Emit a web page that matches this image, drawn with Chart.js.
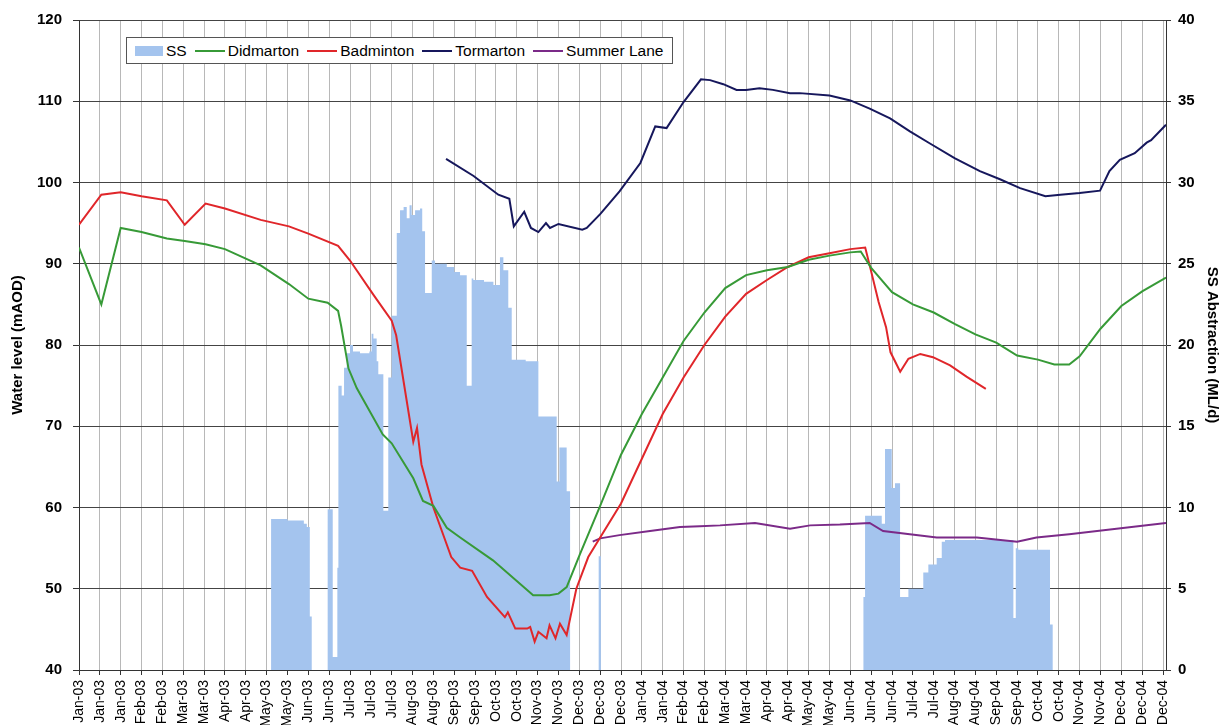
<!DOCTYPE html>
<html>
<head>
<meta charset="utf-8">
<title>Water levels and SS abstraction 2003-2004</title>
<script src="https://cdn.jsdelivr.net/npm/chart.js@4.4.1/dist/chart.umd.min.js"></script>
<style>
    html, body { margin: 0; padding: 0; background: #fff; }
    .wrap { position: relative; width: 1223px; height: 725px; }
    #legend {
        position: absolute; left: 126px; top: 37px; height: 27px;
        box-sizing: border-box; padding: 0 9px 0 8px;
        border: 1px solid #555; background: #fff;
        display: flex; align-items: center;
        font: 15.5px "Liberation Sans", Arial, sans-serif; color: #000;
        white-space: nowrap;
    }
    #legend .item { display: flex; align-items: center; margin-right: 8px; }
    #legend .item:last-child { margin-right: 0; }
    #legend .box { width: 28px; height: 10px; margin-right: 3px; }
    #legend .line { width: 30px; height: 2px; margin-right: 3px; }
</style>
</head>
<body>
<div class="wrap">
    <canvas id="chartLevels" width="1223" height="725"></canvas>
    <div id="legend"></div>
</div>
<script>
/* =========================================================
   DATA  (x = days since 1 Jan 2003)
========================================================= */
const tickLabels = [
    "Jan-03", "Jan-03", "Jan-03", "Feb-03", "Feb-03", "Mar-03", "Mar-03", "Apr-03", "Apr-03",
    "May-03", "May-03", "Jun-03", "Jun-03", "Jul-03", "Jul-03", "Jul-03", "Aug-03", "Aug-03",
    "Sep-03", "Sep-03", "Oct-03", "Oct-03", "Nov-03", "Nov-03", "Dec-03", "Dec-03", "Dec-03",
    "Jan-04", "Jan-04", "Feb-04", "Feb-04", "Mar-04", "Mar-04", "Apr-04", "Apr-04", "May-04",
    "May-04", "Jun-04", "Jun-04", "Jun-04", "Jul-04", "Jul-04", "Aug-04", "Aug-04", "Sep-04",
    "Sep-04", "Oct-04", "Oct-04", "Nov-04", "Nov-04", "Dec-04", "Dec-04", "Dec-04"
];
const tickStepDays = 14;

// SS abstraction (ML/d): [day the value starts, value]
const ssAbstraction = [
    [0, 0], [129, 9.3], [140, 9.2], [151, 9.0], [153, 8.8], [155, 3.3], [156.3, 0],
    [167, 9.9], [170.4, 0.8], [173.5, 6.3], [174.2, 17.5], [176.4, 16.9], [178, 18.6],
    [179.8, 19.5], [182, 20.0], [184, 19.6], [188.7, 19.5], [195, 19.6], [196.5, 20.7],
    [197.7, 20.4], [199.9, 19.0], [201, 18.2], [204.4, 9.8], [207.7, 18.0], [210, 21.8],
    [213.4, 26.9], [215.6, 28.3], [218, 28.5], [220.1, 27.8], [222, 28.6], [223.4, 28.0],
    [225.7, 28.3], [229, 28.4], [230.5, 27.0], [232.4, 23.2], [236.9, 25.2], [239.1, 25.0],
    [247, 24.8], [252, 24.5], [255.9, 24.3], [260.4, 17.5], [263.7, 24.1], [264.8, 24.0],
    [272, 23.9], [278.3, 23.7], [282.7, 25.4], [285, 24.6], [288.3, 22.3], [290.6, 19.1],
    [300, 19.0], [308.5, 15.6], [320.8, 11.6], [322.6, 13.7], [327.5, 11.0], [329.8, 0],
    [349, 7.0], [350.5, 0],
    [526.8, 4.5], [527.9, 9.5], [539.1, 9.0], [541.3, 13.6], [545.8, 11.2], [548, 11.5],
    [551.4, 4.5], [557, 5.0], [567, 6.0], [570.4, 6.5], [576, 6.9], [579.4, 7.9],
    [581.6, 8.0], [627.5, 3.2], [629.1, 7.5], [630.8, 7.4], [652.1, 2.8], [653.9, 0], [730, 0]
];

// water levels (mAOD): [day, level]
const didmarton = [
    [0, 92.0], [15, 85.0], [28, 94.4], [42, 93.9], [59, 93.1], [71, 92.8], [85, 92.4],
    [98, 91.8], [122, 89.8], [141, 87.5], [154, 85.7], [167, 85.2], [174, 84.2], [176, 82.4],
    [181, 77.1], [186.5, 74.7], [204, 69.0], [210, 67.9], [224.5, 63.6], [231, 60.8],
    [238, 60.2], [247, 57.5], [256, 56.3], [278, 53.5], [305, 49.2], [316, 49.2], [322, 49.4],
    [327.5, 50.2], [336.5, 54.3], [350, 60.2], [364, 66.5], [378, 71.5], [392, 76.0],
    [406, 80.5], [420, 84.0], [434, 87.0], [448, 88.6], [462, 89.2], [476, 89.6], [490, 90.5],
    [504, 91.0], [518, 91.4], [525, 91.5], [532, 89.5], [546, 86.5], [560, 85.0], [574, 84.0],
    [588, 82.6], [602, 81.3], [616, 80.3], [630, 78.7], [644, 78.2], [655, 77.6], [665, 77.6],
    [672, 78.6], [686, 82.0], [700, 84.8], [714, 86.6], [730, 88.3]
];
const badminton = [
    [0, 94.8], [15, 98.5], [28, 98.8], [42, 98.3], [59, 97.8], [71, 94.8], [85, 97.4],
    [98, 96.8], [122, 95.4], [141, 94.6], [154, 93.7], [174, 92.2], [182, 90.4], [198, 86.1],
    [210, 83.0], [213, 81.2], [224.5, 68.1], [227, 69.8], [230, 65.3], [238, 60.0], [250, 53.9],
    [256, 52.6], [264, 52.2], [274, 49.0], [286, 46.5], [288, 47.1], [293, 45.1], [301, 45.1],
    [303, 45.3], [306, 43.5], [308.5, 44.7], [314, 43.9], [316, 45.5], [320, 43.9], [323, 45.7],
    [327.5, 44.3], [334, 50.0], [342, 53.9], [350, 56.3], [364, 60.5], [378, 66.0], [392, 71.5],
    [406, 76.0], [420, 80.0], [434, 83.5], [448, 86.3], [462, 88.0], [476, 89.6], [490, 90.8],
    [504, 91.3], [518, 91.8], [528, 92.0], [531, 89.8], [537, 85.3], [542, 82.2], [545, 79.1],
    [551.5, 76.7], [557, 78.3], [565, 78.9], [573.5, 78.5], [585, 77.5], [596, 76.1], [609, 74.6]
];
const tormarton = [
    [246.5, 102.9], [265, 100.8], [281.6, 98.5], [289, 98.0], [292, 94.6], [299, 96.4],
    [303.5, 94.4], [308.5, 93.9], [313.6, 95.0], [316.3, 94.4], [322, 94.9], [338, 94.2],
    [341, 94.4], [350, 96.1], [363, 98.9], [377, 102.4], [387, 106.9], [394.6, 106.7],
    [406, 109.9], [417.7, 112.7], [423.8, 112.6], [432.7, 112.1], [441.6, 111.4], [448, 111.4],
    [457, 111.6], [466, 111.4], [477.5, 111.0], [484, 111.0], [504, 110.7], [518, 110.1],
    [531, 109.1], [544.7, 107.9], [558, 106.3], [571.5, 104.8], [588, 103.0], [605, 101.4],
    [618.5, 100.4], [632, 99.3], [649, 98.3], [659, 98.5], [672, 98.7], [685.7, 99.0],
    [692, 101.4], [699, 102.8], [709, 103.6], [717, 104.9], [720, 105.2], [730, 107.1]
];
const summerLane = [
    [345, 55.8], [350, 56.2], [363, 56.6], [383.5, 57.1], [403.6, 57.6], [417, 57.7],
    [430.5, 57.8], [454, 58.1], [477.5, 57.4], [491, 57.8], [511, 57.9], [531, 58.1],
    [540, 57.1], [576, 56.3], [603, 56.3], [630, 55.8], [643, 56.3], [665, 56.7], [730, 58.1]
];

const toPoints = rows => rows.map(([x, y]) => ({ x, y }));

/* =========================================================
   CHART
========================================================= */
Chart.defaults.font.family = '"Liberation Sans", Arial, sans-serif';
Chart.defaults.color = '#000';

const lineSeries = (label, rows, color) => ({
    label,
    data: toPoints(rows),
    yAxisID: 'y',
    borderColor: color,
    backgroundColor: color,
    borderWidth: 2,
    pointRadius: 0,
    tension: 0,
    fill: false,
    order: 0
});

const canvas = document.getElementById('chartLevels');

const chart = new Chart(canvas, {
    type: 'line',
    data: {
        datasets: [
            {
                label: 'SS',
                data: toPoints(ssAbstraction),
                yAxisID: 'y2',
                stepped: true,
                fill: 'origin',
                backgroundColor: '#a4c4ee',
                borderColor: '#a4c4ee',
                borderWidth: 0,
                pointRadius: 0,
                order: 5
            },
            lineSeries('Didmarton', didmarton, '#379a37'),
            lineSeries('Badminton', badminton, '#e0262a'),
            lineSeries('Tormarton', tormarton, '#16175c'),
            lineSeries('Summer Lane', summerLane, '#7b2a88')
        ]
    },
    options: {
        responsive: false,
        devicePixelRatio: 1,
        animation: false,
        layout: { padding: { top: 16, left: 0, right: 0, bottom: 0 } },
        plugins: {
            legend: { display: false },
            tooltip: { enabled: false }
        },
        scales: {
            x: {
                type: 'linear',
                min: 0,
                max: 730,
                afterBuildTicks: scale => {
                    scale.ticks = tickLabels.map((_, i) => ({ value: i * tickStepDays }));
                },
                afterFit: scale => { scale.height = 55; },
                ticks: {
                    autoSkip: false,
                    minRotation: 90,
                    maxRotation: 90,
                    padding: 5,
                    font: { size: 14 },
                    callback: (value, index) => tickLabels[index]
                },
                grid: { color: '#b8b8b8', lineWidth: 1, tickLength: 5, tickColor: '#333' },
                border: { color: '#333', width: 1 }
            },
            y: {
                position: 'left',
                min: 40,
                max: 120,
                afterFit: scale => { scale.width = 79; },
                ticks: { stepSize: 10, padding: 11, font: { size: 15, weight: 'bold' } },
                grid: { color: '#444', lineWidth: 1, tickLength: 6, tickColor: '#333' },
                border: { color: '#333', width: 1 },
                title: {
                    display: true,
                    text: 'Water level (mAOD)',
                    font: { size: 15, weight: 'bold' },
                    padding: { top: 9, bottom: 0 }
                }
            },
            y2: {
                position: 'right',
                min: 0,
                max: 40,
                afterFit: scale => { scale.width = 57; },
                ticks: { stepSize: 5, padding: 7, font: { size: 15, weight: 'bold' } },
                grid: { drawOnChartArea: false, tickLength: 5, tickColor: '#333' },
                border: { color: '#333', width: 1 },
                title: {
                    display: true,
                    text: 'SS Abstraction (ML/d)',
                    font: { size: 15, weight: 'bold' },
                    padding: { top: 2, bottom: 0 }
                }
            }
        }
    }
});

/* =========================================================
   LEGEND (boxed, inside the plot)
========================================================= */
const legendBox = document.getElementById('legend');
chart.data.datasets.forEach(ds => {
    const item = document.createElement('span');
    item.className = 'item';
    const swatch = document.createElement('span');
    swatch.className = ds.fill ? 'box' : 'line';
    swatch.style.background = ds.fill ? ds.backgroundColor : ds.borderColor;
    const text = document.createElement('span');
    text.textContent = ds.label;
    item.appendChild(swatch);
    item.appendChild(text);
    legendBox.appendChild(item);
});
</script>
</body>
</html>
